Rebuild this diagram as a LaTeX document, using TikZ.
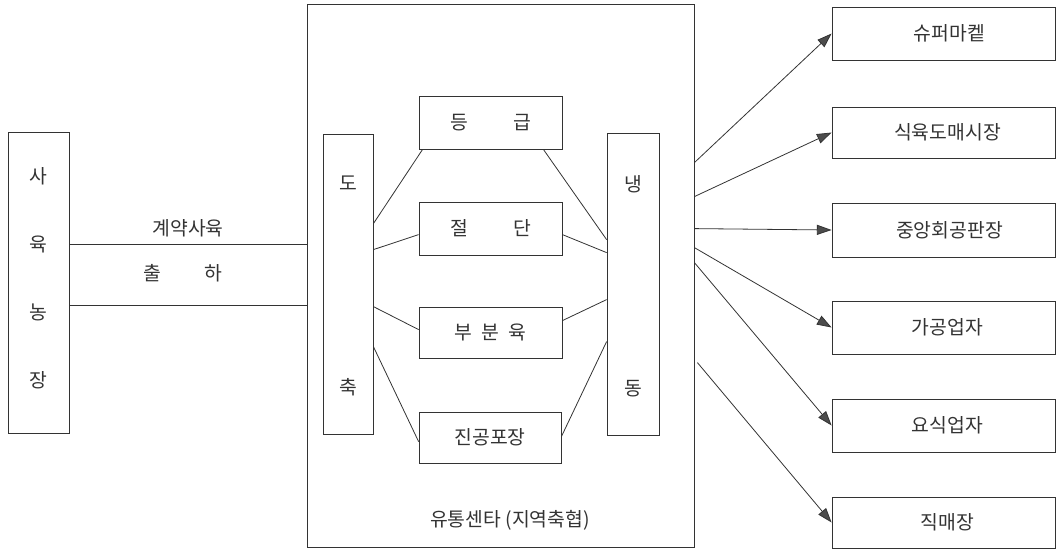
\documentclass[tikz,border=0pt]{standalone}
\usepackage{fontspec}
\newfontfamily\kr{Noto Sans CJK KR}
\usetikzlibrary{arrows.meta,calc}
\tikzset{
  box/.style={draw=black!80, line width=0.6pt, rectangle, inner sep=0pt},
  lbl/.style={font=\kr\fontsize{14.5}{17}\selectfont, text=black!80, inner sep=0pt},
  link/.style={draw=black!80, line width=0.6pt},
  flow/.style={draw=black!80, line width=0.6pt, -{Triangle[length=11pt,width=7.5pt,fill=black!70]}}
}
\begin{document}
\begin{tikzpicture}[x=0.75pt,y=-0.75pt]
\useasboundingbox (0,0) rectangle (1056,550);
% boxes
\node[box, minimum width=61*0.75pt, minimum height=301*0.75pt] (farm) at (38.5,282.5) {};
\node[box, minimum width=387*0.75pt, minimum height=543*0.75pt] (center) at (500.5,275.5) {};
\node[box, minimum width=50*0.75pt, minimum height=300*0.75pt] (slaughter) at (348,284) {};
\node[box, minimum width=52*0.75pt, minimum height=302*0.75pt] (freeze) at (633,284) {};
\node[box, minimum width=143*0.75pt, minimum height=53*0.75pt] (grading) at (490.5,122.5) {};
\node[box, minimum width=143*0.75pt, minimum height=53*0.75pt] (cutting) at (490.5,228.5) {};
\node[box, minimum width=143*0.75pt, minimum height=51*0.75pt] (partial) at (490.5,332.5) {};
\node[box, minimum width=142*0.75pt, minimum height=51*0.75pt] (vacuum) at (490,437.5) {};
\node[box, minimum width=223*0.75pt, minimum height=53*0.75pt] (super) at (943.5,33.5) {};
\node[box, minimum width=223*0.75pt, minimum height=51*0.75pt] (wholesale) at (943.5,132.5) {};
\node[box, minimum width=223*0.75pt, minimum height=54*0.75pt] (auction) at (943.5,230) {};
\node[box, minimum width=223*0.75pt, minimum height=53*0.75pt] (processor) at (943.5,327.5) {};
\node[box, minimum width=223*0.75pt, minimum height=53*0.75pt] (restaurant) at (943.5,425.5) {};
\node[box, minimum width=223*0.75pt, minimum height=51*0.75pt] (direct) at (943.5,522.5) {};
% texts
\node[lbl, align=center, font=\kr\fontsize{14.5}{51}\selectfont] (farmtxt) at (38.5,278) {사\\육\\농\\장};
\node[lbl, align=center, font=\kr\fontsize{14.5}{153}\selectfont] (sltxt) at (348,286) {도\\축};
\node[lbl, align=center, font=\kr\fontsize{14.5}{153}\selectfont] (frtxt) at (633,286) {냉\\동};
\node[lbl] (gradtxt) at (grading) {등\hspace{34pt}급};
\node[lbl] (cuttxt) at (cutting) {절\hspace{34pt}단};
\node[lbl] (parttxt) at (partial) {부\hspace{7pt}분\hspace{7pt}육};
\node[lbl] (vactxt) at (vacuum) {진공포장};
\node[lbl] (contract) at (188,228) {계약사육};
\node[lbl] (ship) at (183,273) {출\hspace{33pt}하};
\node[lbl] (ctrtxt) at (510,520) {유통센타 (지역축협)};
\node[lbl] at ($(super)+(6,0)$) {슈퍼마켙};
\node[lbl] at ($(wholesale)+(4,0)$) {식육도매시장};
\node[lbl] at ($(auction)+(6,0)$) {중앙회공판장};
\node[lbl] at ($(processor)+(4,0)$) {가공업자};
\node[lbl] at ($(restaurant)+(4,0)$) {요식업자};
\node[lbl] at ($(direct)+(4,0)$) {직매장};
% farm to center
\draw[link] ($(farm.north east)+(0,113)$) -- ($(center.north west)+(0,241)$);
\draw[link] ($(farm.north east)+(0,174)$) -- ($(center.north west)+(0,302)$);
% slaughter to processes
\draw[link] ($(slaughter.north east)+(0,90)$) -- ($(grading.south west)+(4,0)$);
\draw[link] ($(slaughter.north east)+(0,116)$) -- ($(cutting.north west)+(0,33)$);
\draw[link] ($(slaughter.north east)+(0,173)$) -- ($(partial.north west)+(0,23)$);
\draw[link] ($(slaughter.north east)+(0,213)$) -- ($(vacuum.north west)+(0,30)$);
% processes to freezing
\draw[link] ($(grading.south east)+(-19,0)$) -- ($(freeze.north west)+(0,107)$);
\draw[link] ($(cutting.north east)+(0,33)$) -- ($(freeze.north west)+(0,120)$);
\draw[link] ($(partial.north east)+(0,14)$) -- ($(freeze.north west)+(0,167)$);
\draw[link] ($(vacuum.north east)+(0,25)$) -- ($(freeze.north west)+(0,209)$);
% distribution arrows
\draw[flow] ($(center.north east)+(0,159)$) -- (super.west);
\draw[flow] ($(center.north east)+(0,193)$) -- (wholesale.west);
\draw[flow] ($(center.north east)+(0,225)$) -- (auction.west);
\draw[flow] ($(center.north east)+(0,244)$) -- (processor.west);
\draw[flow] ($(center.north east)+(0,259)$) -- (restaurant.west);
\draw[flow] ($(center.north east)+(3,359)$) -- (direct.west);
\end{tikzpicture}
\end{document}
